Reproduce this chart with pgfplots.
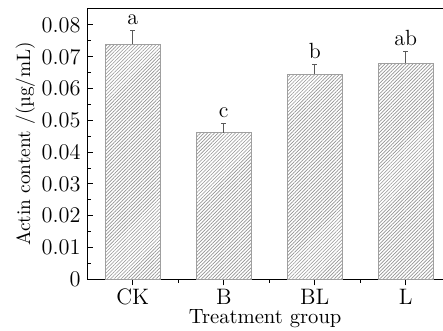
\documentclass[border=0pt]{standalone}
\usepackage{pgfplots}
\pgfplotsset{compat=1.18}
\usetikzlibrary{patterns.meta}
\begin{document}
\begin{tikzpicture}
\begin{axis}[
  scale only axis,
  width=187.1bp, height=142.5bp,
  xmin=-0.5, xmax=3.409,
  ymin=0, ymax=0.0852,
  axis x line=box, axis y line=left,
  axis line style={line width=0.7pt, -},
  xtick={0,1,2,3},
  xticklabels={CK,B,BL,L},
  minor xtick={0.5,1.5,2.5},
  xtick pos=bottom, xticklabel pos=bottom,
  ytick={0,0.01,...,0.08},
  minor ytick={0.005,0.015,...,0.075},
  yticklabels={0,0.01,0.02,0.03,0.04,0.05,0.06,0.07,0.08},
  scaled y ticks=false,
  tick align=inside,
  major tick length=3.2bp,
  minor tick length=1.8bp,
  tick style={black, line width=0.5pt},
  tick label style={font=\fontsize{11.8}{14}\selectfont},
  xticklabel style={anchor=base, yshift=-9.8bp},
  xlabel={Treatment group},
  ylabel={Actin content /(µg/mL)},
  every axis x label/.style={at={(axis description cs:0.5,-0.163)}, anchor=base, font=\fontsize{10.9}{13}\selectfont},
  every axis y label/.style={at={(axis description cs:-0.174,0.5)}, anchor=center, rotate=90, font=\fontsize{10.2}{12}\selectfont},
  ybar, bar width=0.604,
  bar shift=0pt,
]
\addplot[draw=gray!75, line width=0.5pt,
  pattern={Lines[angle=45, distance=1.3bp, line width=0.35bp]}, pattern color=gray!85,
  error bars/.cd, y dir=plus, y explicit,
  error bar style={gray!70!black, line width=0.5pt},
  error mark options={rotate=90, mark size=1.4bp, gray!70!black, line width=0.5pt}]
  coordinates {(0,0.0739) +- (0,0.0044) (1,0.0461) +- (0,0.0030) (2,0.0645) +- (0,0.0031) (3,0.0679) +- (0,0.0039)};
\node[anchor=base, yshift=3bp, font=\fontsize{11.6}{14}\selectfont] at (axis cs:0,0.0783) {a};
\node[anchor=base, yshift=3bp, font=\fontsize{11.6}{14}\selectfont] at (axis cs:1,0.0491) {c};
\node[anchor=base, yshift=3bp, font=\fontsize{11.6}{14}\selectfont] at (axis cs:2,0.0676) {b};
\node[anchor=base, yshift=3bp, font=\fontsize{11.6}{14}\selectfont] at (axis cs:3,0.0718) {ab};
\end{axis}
\pgfresetboundingbox
\useasboundingbox (current axis.south west) ++(-45.9bp,-26.7bp) rectangle ++(233bp,173.6bp);
\end{tikzpicture}
\end{document}
